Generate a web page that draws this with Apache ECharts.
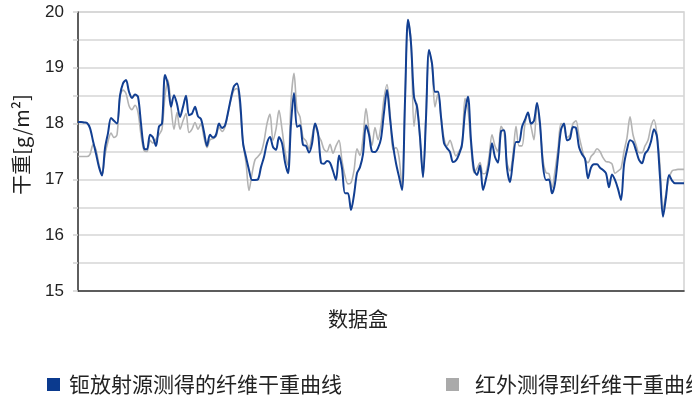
<!DOCTYPE html>
<html>
<head>
<meta charset="utf-8">
<script src="https://cdn.jsdelivr.net/npm/echarts@6/dist/echarts.min.js"></script>
<style>html,body{margin:0;padding:0;background:#fff;}#c{width:692px;height:398px;}</style>
</head>
<body>
<div id="c"></div>
<script>
// Y-axis tick labels shown
const yTickLabels = [15, 16, 17, 18, 19, 20];
// Series names
const seriesNames = ['钷放射源测得的纤维干重曲线', '红外测得到纤维干重曲线'];
// Blue: Pm source measured fibre dry weight
const blueValues = [
18.03,18.03,18.02,18.01,17.92,17.69,17.46,17.22,17.07,17.56,
17.83,18.1,18.05,18.0,18.5,18.72,18.78,18.57,18.46,18.52,
18.48,18.0,17.56,17.54,17.8,17.75,17.6,17.95,18.0,18.87,
18.7,18.3,18.51,18.35,18.12,18.3,18.5,18.15,18.18,18.3,
18.13,18.08,17.85,17.6,17.8,17.75,17.8,18.0,17.92,17.97,
18.2,18.46,18.67,18.72,18.42,17.66,17.4,17.17,16.99,16.99,
17.0,17.22,17.4,17.65,17.76,17.58,17.53,17.76,17.65,17.31,
17.11,18.0,18.55,17.94,17.97,17.62,17.6,17.48,17.64,18.0,
17.83,17.3,17.28,17.33,17.3,17.15,16.99,17.43,17.2,16.75,
16.75,16.45,16.72,17.11,17.22,17.45,17.97,17.8,17.5,17.49,
17.56,17.73,18.2,18.6,18.1,17.62,17.29,17.05,16.81,18.4,
19.86,19.44,18.48,18.3,17.76,17.04,18.1,19.32,19.08,18.57,
18.57,18.12,17.65,17.56,17.49,17.31,17.34,17.45,17.63,18.2,
18.48,17.7,17.17,17.08,17.25,16.81,17.01,17.27,17.65,17.4,
17.3,17.86,17.88,17.2,16.95,17.34,17.67,17.67,17.94,18.07,
18.2,18.0,18.05,18.37,18.0,17.24,16.99,17.0,16.75,16.93,
17.4,17.89,18.0,17.7,17.73,17.94,17.92,17.58,17.45,17.37,
17.02,17.21,17.27,17.27,17.21,17.17,17.11,16.86,17.09,16.99,
16.83,16.63,17.26,17.53,17.7,17.67,17.52,17.35,17.29,17.46,
17.53,17.68,17.9,17.76,17.04,16.33,16.68,17.08,16.98,16.93,
16.93,16.93,16.93
];
// Gray: infrared measured fibre dry weight
const grayValues = [
17.41,17.41,17.41,17.41,17.45,17.62,17.53,17.26,17.08,17.44,
17.68,17.83,17.75,17.8,18.5,18.6,18.54,18.32,18.25,18.33,
18.2,17.8,17.52,17.5,17.7,17.65,17.72,17.8,17.9,18.5,
18.78,18.3,17.9,18.2,17.9,18.05,18.18,17.84,17.9,18.02,
17.9,18.0,17.75,17.57,17.71,17.73,17.77,17.94,17.86,17.94,
18.18,18.43,18.6,18.63,18.3,17.65,17.3,16.8,17.1,17.35,
17.41,17.48,17.68,18.0,18.17,17.7,17.9,18.24,17.9,17.5,
17.25,18.4,18.9,18.25,18.12,17.75,17.69,17.55,17.77,17.97,
17.8,17.7,17.54,17.5,17.63,17.47,17.6,17.7,17.33,17.06,
16.92,16.94,17.16,17.55,17.43,17.74,18.27,17.88,17.61,17.93,
17.71,17.97,18.45,18.7,18.2,17.53,17.57,17.4,16.87,18.4,
19.86,19.5,17.95,18.36,17.7,17.05,18.15,19.3,19.05,18.3,
18.54,18.13,17.74,17.6,17.7,17.55,17.42,17.5,17.58,18.45,
18.25,17.6,17.12,17.2,17.3,17.1,17.12,17.4,17.8,17.6,
17.5,17.95,17.85,17.3,17.15,17.45,17.95,17.6,17.6,18.0,
18.18,17.95,17.71,18.35,17.95,17.35,17.12,17.1,16.85,17.15,
17.55,18.0,17.95,17.75,17.8,18.0,18.05,17.78,17.55,17.35,
17.3,17.41,17.47,17.55,17.5,17.39,17.32,17.31,17.28,17.11,
17.15,17.2,17.5,17.75,18.12,17.8,17.62,17.48,17.48,17.6,
17.7,17.95,18.07,17.8,17.25,16.45,16.75,17.02,17.15,17.17,
17.18,17.18,17.18
];
// Category axis: data bin index
const categories = blueValues.map((_, i) => String(i + 1));

const cjk = '"Noto Sans CJK SC", "Noto Sans", sans-serif';
const chart = echarts.init(document.getElementById('c'), null, {renderer: 'canvas'});
chart.setOption({
  animation: false,
  backgroundColor: '#ffffff',
  grid: {left: 78, right: 8, top: 12, bottom: 107, show: true, borderColor: '#d2d2d2', borderWidth: 1.5, backgroundColor: 'transparent'},
  legend: {
    data: [
      {name: seriesNames[0], textStyle: {padding: [0, 0, 0, 4]}},
      {name: seriesNames[1], textStyle: {padding: [0, 0, 0, 11]}}
    ],
    left: 47, top: 374, width: 900, padding: 0,
    icon: 'rect', itemWidth: 13, itemHeight: 13, itemGap: 104,
    textStyle: {fontSize: 21, fontFamily: cjk, color: '#222'}
  },
  xAxis: {
    type: 'category', data: categories, boundaryGap: false,
    name: '数据盒', nameLocation: 'middle', nameGap: 18,
    nameTextStyle: {fontSize: 20, fontFamily: cjk, color: '#222', padding: [0, 46, 0, 0]},
    axisLine: {show: true, lineStyle: {color: '#333', width: 1.5}},
    axisTick: {show: false}, axisLabel: {show: false}, splitLine: {show: false}
  },
  yAxis: {
    type: 'value', min: 15, max: 20, interval: 0.5,
    name: '干重[g/m²]', nameLocation: 'middle', nameGap: 47,
    nameTextStyle: {fontSize: 20, fontFamily: cjk, color: '#222', padding: [0, 0, 0, 14]},
    axisLine: {show: true, lineStyle: {color: '#333', width: 1.5}},
    axisTick: {show: true, length: 5, lineStyle: {color: '#d2d2d2', width: 1.5}},
    axisLabel: {
      margin: 14, fontSize: 17, color: '#222', fontFamily: '"Liberation Sans", Arial, sans-serif',
      formatter: v => (yTickLabels.indexOf(v) >= 0 ? String(v) : '')
    },
    splitLine: {show: true, lineStyle: {color: '#d6d6d6', width: 1.5}}
  },
  series: [
    {
      name: seriesNames[0], type: 'line', data: blueValues, z: 3,
      smooth: 0.3, symbol: 'none',
      lineStyle: {color: '#123f92', width: 2}, itemStyle: {color: '#0b3a8e'}
    },
    {
      name: seriesNames[1], type: 'line', data: grayValues, z: 2,
      smooth: 0.3, symbol: 'none',
      lineStyle: {color: '#b3b3b3', width: 1.6}, itemStyle: {color: '#aaaaaa'}
    }
  ]
});
</script>
</body>
</html>
